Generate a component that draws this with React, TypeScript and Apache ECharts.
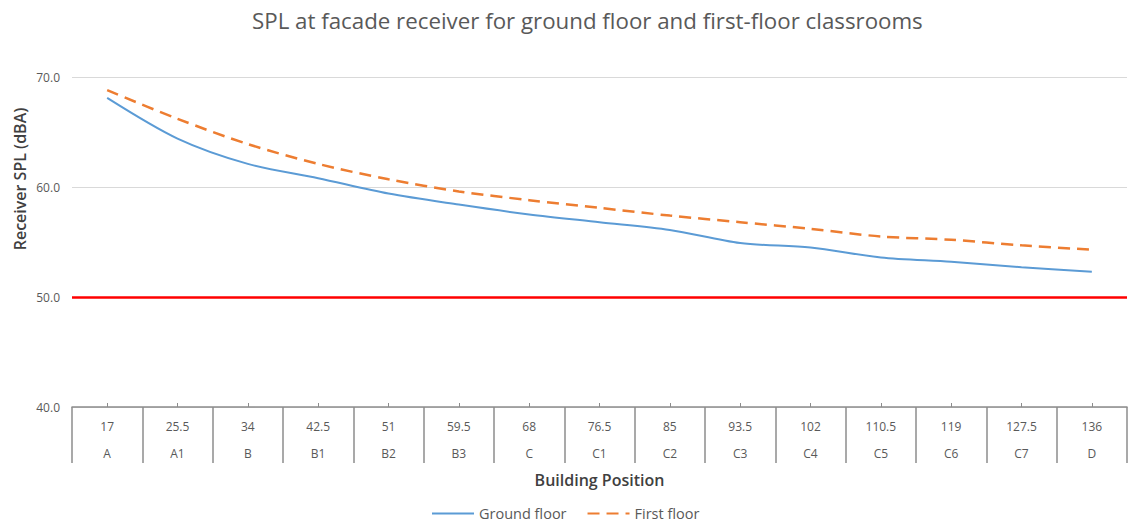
import React, { useEffect, useRef } from "react";
import * as echarts from "echarts";

// Receiver positions along the building: distance (m) and position code
const distances = ["17", "25.5", "34", "42.5", "51", "59.5", "68", "76.5", "85", "93.5", "102", "110.5", "119", "127.5", "136"];
const positions = ["A", "A1", "B", "B1", "B2", "B3", "C", "C1", "C2", "C3", "C4", "C5", "C6", "C7", "D"];

// Receiver SPL (dBA)
const groundFloor = [68.1, 64.4, 62.1, 60.8, 59.4, 58.4, 57.5, 56.8, 56.1, 54.9, 54.5, 53.6, 53.2, 52.7, 52.3];
const firstFloor = [68.8, 66.2, 63.9, 62.1, 60.7, 59.6, 58.8, 58.1, 57.4, 56.8, 56.2, 55.5, 55.2, 54.7, 54.3];

// Criterion level
const limitLevel = 50;

const yTicks = { min: 40, max: 70, interval: 10 };

const FONT = "'Open Sans', 'Noto Sans', sans-serif";
const TEXT = "#595959";

export default function App() {
  const ref = useRef<HTMLDivElement>(null);

  useEffect(() => {
    if (!ref.current) return;
    const chart = echarts.init(ref.current, null, { renderer: "svg" });
    const categories = distances.map((d, i) => `${d}\n${positions[i]}`);

    chart.setOption({
      animation: false,
      backgroundColor: "#ffffff",
      textStyle: { fontFamily: FONT },
      title: {
        text: "SPL at facade receiver for ground floor and first-floor classrooms",
        left: 247,
        top: 4,
        textStyle: { fontFamily: FONT, fontSize: 22.3, fontWeight: "normal", color: TEXT },
      },
      legend: {
        bottom: 1,
        left: 426,
        itemWidth: 42,
        itemHeight: 4,
        itemGap: 20,
        itemStyle: { opacity: 0 },
        textStyle: { fontFamily: FONT, fontSize: 14.5, color: TEXT },
        data: ["Ground floor", "First floor"],
      },
      grid: { left: 72, right: 1, top: 77, bottom: 120 },
      xAxis: [
        {
          type: "category",
          data: categories,
          boundaryGap: true,
          name: "Building Position",
          nameLocation: "middle",
          nameGap: 63,
          nameTextStyle: { fontFamily: FONT, fontSize: 16, fontWeight: 600, color: "#404040" },
          axisLine: { lineStyle: { color: "#8c8c8c", width: 1.5 } },
          axisTick: { show: true, interval: 0, length: 56, lineStyle: { color: "#8c8c8c", width: 1.5 } },
          axisLabel: {
            interval: 0,
            margin: 6,
            lineHeight: 27,
            fontSize: 12,
            color: TEXT,
            fontFamily: FONT,
          },
        },
        {
          type: "category",
          data: categories,
          position: "bottom",
          axisLine: { show: false },
          axisLabel: { show: false },
          axisTick: { show: true, alignWithLabel: true, inside: true, length: 4, lineStyle: { color: "#8c8c8c", width: 1 } },
        },
      ],
      yAxis: {
        type: "value",
        min: yTicks.min,
        max: yTicks.max,
        interval: yTicks.interval,
        axisLine: { show: false },
        axisTick: { show: false },
        axisLabel: {
          margin: 12,
          fontSize: 12,
          color: TEXT,
          fontFamily: FONT,
          formatter: (v: number) => v.toFixed(1),
        },
        splitLine: { lineStyle: { color: "#d9d9d9", width: 1 } },
      },
      graphic: [
        {
          type: "text",
          x: 20,
          y: 179,
          rotation: Math.PI / 2,
          style: {
            text: "Receiver SPL (dBA)",
            fontFamily: FONT,
            fontSize: 16,
            fontWeight: 600,
            fill: "#404040",
            align: "center",
            verticalAlign: "middle",
          },
        },
      ],
      series: [
        {
          name: "Ground floor",
          type: "line",
          data: groundFloor,
          smooth: 0.3,
          symbol: "none",
          lineStyle: { color: "#5B9BD5", width: 2 },
          itemStyle: { color: "#5B9BD5" },
          z: 3,
          markLine: {
            silent: true,
            symbol: "none",
            label: { show: false },
            lineStyle: { color: "#ff0000", width: 2.5, type: "solid" },
            data: [{ yAxis: limitLevel }],
          },
        },
        {
          name: "First floor",
          type: "line",
          data: firstFloor,
          smooth: 0.3,
          symbol: "none",
          lineStyle: { color: "#ED7D31", width: 2.5, type: [12, 7] },
          itemStyle: { color: "#ED7D31" },
          z: 3,
        },
      ],
    });

    return () => chart.dispose();
  }, []);

  return (
    <div
      ref={ref}
      style={{ position: "fixed", left: 0, top: 0, width: 1128, height: 527, background: "#fff" }}
    />
  );
}
